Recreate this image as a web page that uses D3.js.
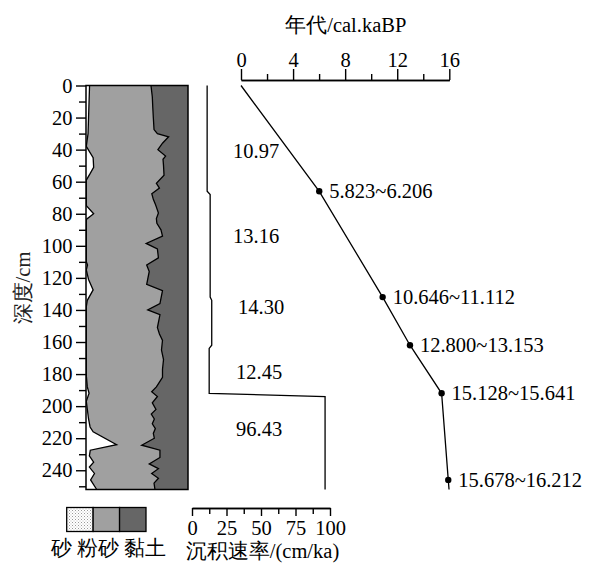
<!DOCTYPE html>
<html><head><meta charset="utf-8">
<script src="https://cdn.jsdelivr.net/npm/d3@7/dist/d3.min.js"></script>
<style>body{margin:0;background:#fff}</style>
</head><body><svg id="c" width="592" height="563"></svg>
<script>
// ---- data ----
const sandDepth = [0,10,20,30,38,45,51,55,59,75,80,83.5,110,112,115,121,127.5,134,138,181,188,192,197,202,208,213,216,224,227.5,231,235,238,242,246,252];
const sandPct   = [3.5,3,2.5,2,0.3,7,7.5,4,0.3,0.3,7.5,0.3,0.3,1.5,0.3,2.5,7,1.3,0.3,0.3,1.3,3,0.3,1.3,2.5,4,7,30,4.2,3.3,7.5,3.3,8.3,4.5,10.5];
const boundDepth  = [0,7,14,20,27.5,30,32,36,40,44,46,50,56,61,64,67.5,71,74,79.5,83,86,90,94,98.5,102,107.5,112,116,124,128,136,140,143,151,155,159,165,171,177,182,185,188,191,194,198,202,205,208,211,214,217,220,224.4,227.5,232,236,239,242,245,248,252];
const sandSiltPct = [63.7,65,65.5,66,66.7,70,81,75,70.5,78,75.5,76,76.5,69,72,64.5,66,68,71,69,69.5,73.5,75,59,70,71,59.5,62,59.5,75,72.5,60.5,72.5,70,72,75,74,76,75,75,72,69,64.4,70,65,68.6,64,67,65,68,66,67,54.6,72.5,72.5,62,71,64.4,71,66.7,67.6];

const dateDepth = [66,132,162,192,246];
const dateAge   = [6.01,10.88,12.98,15.41,15.92];
const dateLabels = ["5.823~6.206","10.646~11.112","12.800~13.153","15.128~15.641","15.678~16.212"];
const lineEndDepth = 252, lineEndAge = 15.98;

const rateTop    = [0,66,132,162,192];
const rateBottom = [66,132,162,192,252];
const rateValues = [10.97,13.16,14.30,12.45,96.43];

const depthTicks = [0,20,40,60,80,100,120,140,160,180,200,220,240];
const depthMinor = [10,30,50,70,90,110,130,150,170,190,210,230,250];
const ageTicks = [0,4,8,12,16];
const ageMinor = [2,6,10,14];
const rateTicks = [0,25,50,75,100];
const rateMinor = [12.5,37.5,62.5,87.5];
const legendLabels = ["砂","粉砂","黏土"];

// ---- layout ----
const FS = 20.5;
const FONT = "'Liberation Serif', Tinos, 'DejaVu Serif', serif";
const svg = d3.select("#c");
const y = d3.scaleLinear().domain([0,252]).range([85.5,489.5]);
const xCol = d3.scaleLinear().domain([0,100]).range([86,188]);
const xAge = d3.scaleLinear().domain([0,16]).range([241,449.3]);
const xRate = d3.scaleLinear().domain([0,100]).range([192,330]);
const SILT = "#a0a0a0", CLAY = "#666666";

const defs = svg.append("defs");
defs.append("clipPath").attr("id","colclip").append("rect")
  .attr("x",xCol(0)).attr("y",y(0)).attr("width",xCol(100)-xCol(0)).attr("height",y(252)-y(0));
const pat = defs.append("pattern").attr("id","dots").attr("patternUnits","userSpaceOnUse")
  .attr("width",3).attr("height",3);
pat.append("rect").attr("width",3).attr("height",3).attr("fill","#fff");
pat.append("rect").attr("x",0).attr("y",0).attr("width",1).attr("height",1).attr("fill","#999");
pat.append("rect").attr("x",1.5).attr("y",1.5).attr("width",1).attr("height",1).attr("fill","#bbb");

// ---- grain size column ----
const col = svg.append("g").attr("clip-path","url(#colclip)");
col.append("rect").attr("x",xCol(0)).attr("y",y(0)).attr("width",xCol(100)-xCol(0)).attr("height",y(252)-y(0)).attr("fill",CLAY);
const bound = boundDepth.map((d,i)=>({d, v:sandSiltPct[i]}));
const sand = sandDepth.map((d,i)=>({d, v:sandPct[i]}));
const area = d3.area().y(p=>y(p.d)).x0(xCol(0)).x1(p=>xCol(p.v));
const line = d3.line().y(p=>y(p.d)).x(p=>xCol(p.v));
col.append("path").attr("d",area(bound)).attr("fill",SILT);
col.append("path").attr("d",area(sand)).attr("fill","#fff");
col.append("path").attr("d",line(bound)).attr("fill","none").attr("stroke","#000").attr("stroke-width",1.3);
col.append("path").attr("d",line(sand)).attr("fill","none").attr("stroke","#000").attr("stroke-width",1.3);
svg.append("rect").attr("x",xCol(0)).attr("y",y(0)).attr("width",xCol(100)-xCol(0)).attr("height",y(252)-y(0))
  .attr("fill","none").attr("stroke","#000").attr("stroke-width",1.5);

// depth axis
const gD = svg.append("g").attr("transform",`translate(${xCol(0)},0)`);
gD.call(d3.axisLeft(y).tickValues(depthTicks).tickSize(10).tickPadding(3.5).tickSizeOuter(0));
const gD2 = svg.append("g").attr("transform",`translate(${xCol(0)},0)`);
gD2.call(d3.axisLeft(y).tickValues(depthMinor).tickSize(7).tickFormat("").tickSizeOuter(0));
[gD,gD2].forEach(g=>{g.select(".domain").remove(); g.selectAll("line").attr("stroke","#000").attr("stroke-width",1.4);});
svg.append("text").attr("transform","translate(23,288) rotate(-90)").attr("text-anchor","middle")
  .attr("dominant-baseline","central").attr("fill","#222").text("深度/cm");

// ---- sedimentation rate ----
const ratePts = [];
rateValues.forEach((r,i)=>{ ratePts.push([r, rateTop[i] + (i>0?2:0)]); ratePts.push([r, rateBottom[i]]); });
svg.append("path").attr("d", d3.line().x(p=>xRate(p[0])).y(p=>y(p[1]))(ratePts))
  .attr("fill","none").attr("stroke","#000").attr("stroke-width",1.3);
const rateLabelX = [233,233,238,236,236];
const rateLabelDepth = [41,94,138,178.6,214];
rateValues.forEach((r,i)=>{
  svg.append("text").attr("x",rateLabelX[i]).attr("y",y(rateLabelDepth[i])).attr("dominant-baseline","central")
    .text(r.toFixed(2));
});
const gR = svg.append("g").attr("transform","translate(0,508)");
gR.call(d3.axisBottom(xRate).tickValues(rateTicks).tickSize(8).tickPadding(4.4).tickSizeOuter(0));
const gR2 = svg.append("g").attr("transform","translate(0,508)");
gR2.call(d3.axisBottom(xRate).tickValues(rateMinor).tickSize(6).tickFormat("").tickSizeOuter(0));
[gR,gR2].forEach(g=>{g.selectAll("line").attr("stroke","#000").attr("stroke-width",1.4); g.select(".domain").attr("stroke","#000").attr("stroke-width",1.4);});
svg.append("text").attr("x",262.5).attr("y",551).attr("text-anchor","middle").attr("dominant-baseline","central")
  .text("沉积速率/(cm/ka)");

// ---- age-depth ----
const gA = svg.append("g").attr("transform","translate(0,80)");
gA.call(d3.axisTop(xAge).tickValues(ageTicks).tickSize(11).tickPadding(2.3).tickSizeOuter(0));
const gA2 = svg.append("g").attr("transform","translate(0,80)");
gA2.call(d3.axisTop(xAge).tickValues(ageMinor).tickSize(6).tickFormat("").tickSizeOuter(0));
[gA,gA2].forEach(g=>{g.selectAll("line").attr("stroke","#000").attr("stroke-width",1.4); g.select(".domain").attr("stroke","#000").attr("stroke-width",1.4);});
svg.append("text").attr("x",345.8).attr("y",25).attr("text-anchor","middle").attr("dominant-baseline","central")
  .text("年代/cal.kaBP");

const linePts = [[0,0]].concat(dateDepth.map((d,i)=>[dateAge[i],d])).concat([[lineEndAge,lineEndDepth]]);
svg.append("path").attr("d", d3.line().x(p=>xAge(p[0])).y(p=>y(p[1]))(linePts))
  .attr("fill","none").attr("stroke","#000").attr("stroke-width",1.3);
svg.selectAll("circle.pt").data(dateDepth).join("circle").attr("class","pt")
  .attr("cx",(d,i)=>xAge(dateAge[i])).attr("cy",d=>y(d)).attr("r",3.2).attr("fill","#000");
svg.selectAll("text.dl").data(dateLabels).join("text").attr("class","dl")
  .attr("x",(t,i)=>xAge(dateAge[i])+10).attr("y",(t,i)=>y(dateDepth[i])).attr("dominant-baseline","central")
  .text(t=>t);

// ---- legend ----
const lx = d3.scaleBand().domain(legendLabels).range([66.7,146]);
svg.selectAll("rect.lg").data(legendLabels).join("rect").attr("class","lg")
  .attr("x",d=>lx(d)).attr("y",507.5).attr("width",lx.bandwidth()).attr("height",24)
  .attr("fill",(d,i)=>["url(#dots)",SILT,CLAY][i]).attr("stroke","#000").attr("stroke-width",1.3);
const legendLabelX = [61.7,98,145];
svg.selectAll("text.lgt").data(legendLabels).join("text").attr("class","lgt")
  .attr("x",(d,i)=>legendLabelX[i]).attr("y",548).attr("text-anchor","middle").attr("dominant-baseline","central")
  .text(d=>d);

// typography for every text
svg.selectAll("g").attr("font-family", null).attr("font-size", null);
svg.selectAll("text").attr("font-family", FONT).attr("font-size", FS)
  .style("font-family", FONT).style("font-size", FS + "px");
svg.selectAll("text:not([fill='#222'])").attr("fill", "#000");
</script></body></html>
